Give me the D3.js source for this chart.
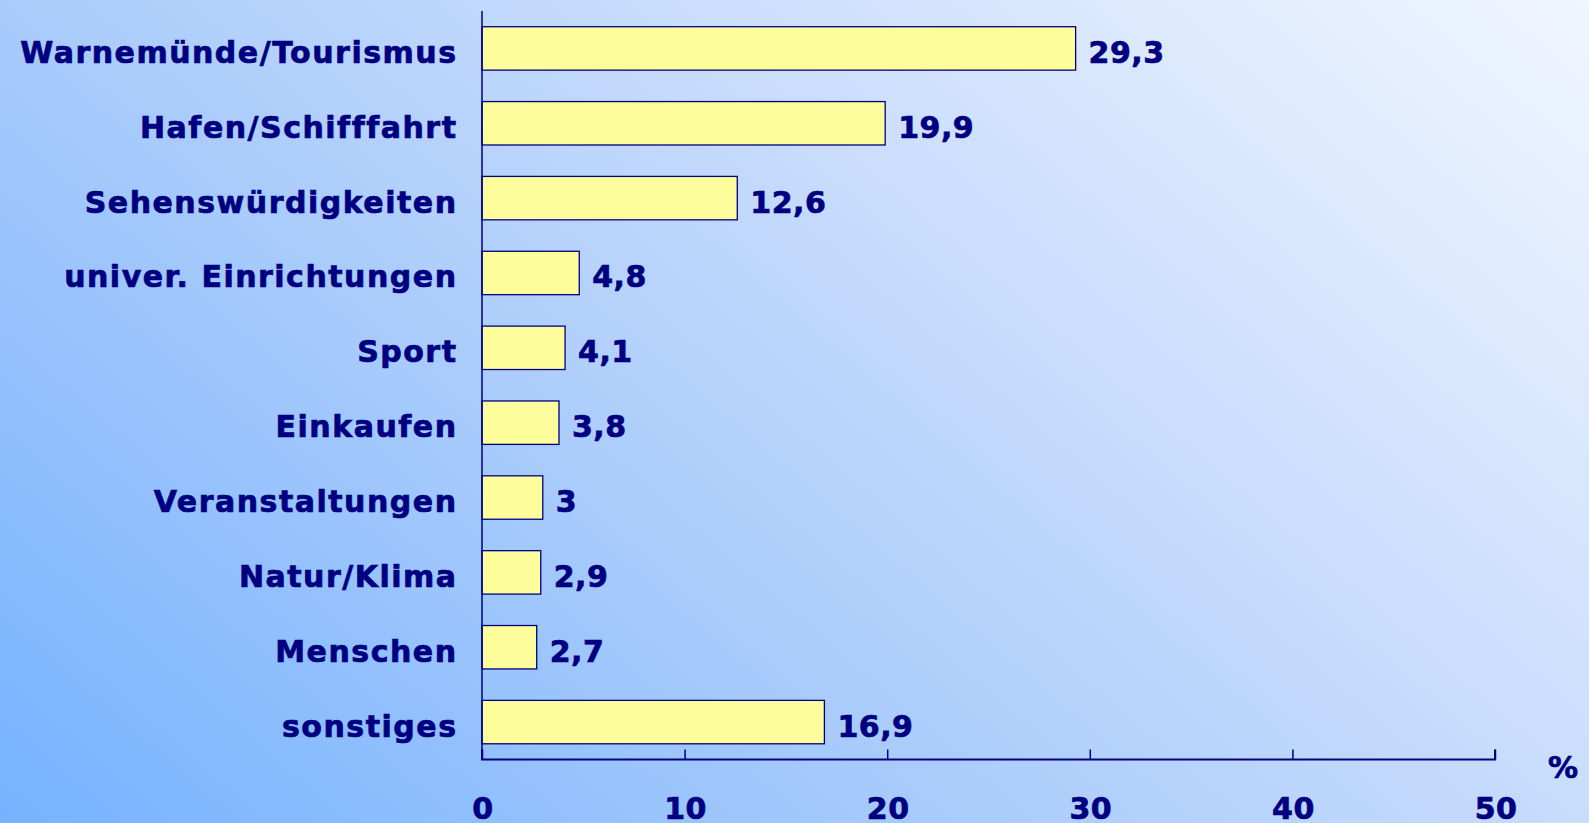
<!doctype html>
<html lang="de">
<head>
<meta charset="utf-8">
<title>Warnemünde</title>
<script src="https://d3js.org/d3.v7.min.js"></script>
<style>
  body { margin: 0; overflow: hidden; }
  text { font-family: "DejaVu Sans", Verdana, sans-serif; font-weight: bold; fill: #000080;
         stroke: #000080; stroke-width: 0.7px; }
</style>
</head>
<body>
<div id="chart"></div>
<script>
// data
var categories = ["Warnemünde/Tourismus", "Hafen/Schifffahrt", "Sehenswürdigkeiten",
  "univer. Einrichtungen", "Sport", "Einkaufen", "Veranstaltungen", "Natur/Klima",
  "Menschen", "sonstiges"];
var values = [29.3, 19.9, 12.6, 4.8, 4.1, 3.8, 3, 2.9, 2.7, 16.9];
var tickValues = [0, 10, 20, 30, 40, 50];
var unitLabel = "%";

var width = 1589, height = 823;
var plot = {left: 482, right: 1495, top: 11, bottom: 759.5};

var svg = d3.select("#chart").append("svg")
  .attr("width", width)
  .attr("height", height);

// background gradient, bottom-left dark blue to top-right almost white
var grad = svg.append("defs").append("linearGradient")
  .attr("id", "bg")
  .attr("gradientUnits", "userSpaceOnUse")
  .attr("x1", 0).attr("y1", height).attr("x2", 1085).attr("y2", height - 1257);
grad.append("stop").attr("offset", "0%").attr("stop-color", "#76b2ff");
grad.append("stop").attr("offset", "37.5%").attr("stop-color", "#a8cbfb");
grad.append("stop").attr("offset", "62.5%").attr("stop-color", "#c8dcfc");
grad.append("stop").attr("offset", "100%").attr("stop-color", "#f0f6ff");
svg.append("rect").attr("width", width).attr("height", height).attr("fill", "url(#bg)");

var x = d3.scaleLinear().domain([0, 50]).range([plot.left, plot.right]);
var y = d3.scaleBand().domain(categories).range([plot.top, plot.bottom])
  .paddingInner(0.42).paddingOuter(0.21);

// bars
svg.append("g").selectAll("rect")
  .data(values)
  .enter().append("rect")
    .attr("x", x(0))
    .attr("y", function(d, i) { return y(categories[i]); })
    .attr("width", function(d) { return x(d) - x(0); })
    .attr("height", y.bandwidth())
    .attr("fill", "#fdfd9b")
    .attr("stroke", "#000080")
    .attr("stroke-width", 1.3);

// value labels
svg.append("g").selectAll("text")
  .data(values)
  .enter().append("text")
    .attr("x", function(d) { return x(d) + 13; })
    .attr("y", function(d, i) { return y(categories[i]) + y.bandwidth() / 2 + 14.5; })
    .attr("font-size", 30)
    .attr("letter-spacing", 0.5)
    .text(function(d) { return String(d).replace(".", ","); });

// category labels (letter-spacing leaves a trailing gap, hence +1.5)
svg.append("g").selectAll("text")
  .data(categories)
  .enter().append("text")
    .attr("x", plot.left - 24.5)
    .attr("y", function(d) { return y(d) + y.bandwidth() / 2 + 14.5; })
    .attr("text-anchor", "end")
    .attr("font-size", 30)
    .attr("letter-spacing", 1.5)
    .text(function(d) { return d; });

// axes
var axisColor = "#000080";
svg.append("line")
  .attr("x1", plot.left).attr("x2", plot.left).attr("y1", plot.top).attr("y2", plot.bottom)
  .attr("stroke", axisColor).attr("stroke-width", 1.5);

var xAxis = d3.axisBottom(x).tickValues(tickValues).tickSize(-10).tickFormat("");
var gx = svg.append("g")
  .attr("transform", "translate(0," + plot.bottom + ")")
  .call(xAxis);
gx.select(".domain").attr("stroke", axisColor).attr("stroke-width", 2)
  .attr("d", "M" + plot.left + ",-10V0H" + plot.right + "V-10");
gx.selectAll(".tick line").attr("stroke", axisColor).attr("stroke-width", 1.5);

svg.append("g").selectAll("text")
  .data(tickValues)
  .enter().append("text")
    .attr("x", function(d) { return x(d) + 1; })
    .attr("y", 819)
    .attr("text-anchor", "middle")
    .attr("font-size", 30)
    .attr("letter-spacing", 0.5)
    .text(function(d) { return d; });

svg.append("text")
  .attr("x", 1548).attr("y", 778)
  .attr("font-size", 30)
  .text(unitLabel);
</script>
</body>
</html>
